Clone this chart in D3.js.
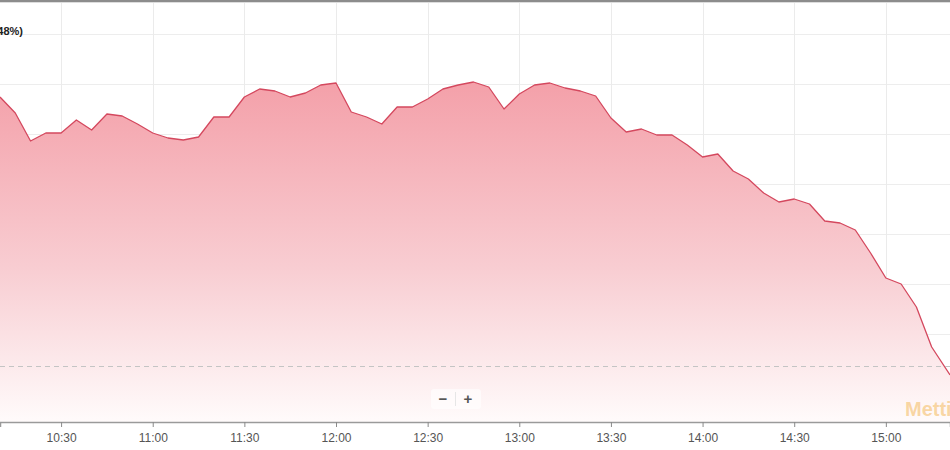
<!DOCTYPE html>
<html>
<head>
<meta charset="utf-8">
<script src="https://cdn.jsdelivr.net/npm/d3@7"></script>
<style>
  html, body { margin: 0; padding: 0; background: #fff; }
  svg { display: block; font-family: "Liberation Sans", Arial, sans-serif; }
</style>
</head>
<body>
<svg id="chart" width="950" height="450"></svg>
<script>
// intraday quotes, one every 5 minutes, last one live
const times = [
  "10:10", "10:15", "10:20", "10:25", "10:30", "10:35", "10:40", "10:45", "10:50", "10:55",
  "11:00", "11:05", "11:10", "11:15", "11:20", "11:25", "11:30", "11:35", "11:40", "11:45",
  "11:50", "11:55", "12:00", "12:05", "12:10", "12:15", "12:20", "12:25", "12:30", "12:35",
  "12:40", "12:45", "12:50", "12:55", "13:00", "13:05", "13:10", "13:15", "13:20", "13:25",
  "13:30", "13:35", "13:40", "13:45", "13:50", "13:55", "14:00", "14:05", "14:10", "14:15",
  "14:20", "14:25", "14:30", "14:35", "14:40", "14:45", "14:50", "14:55", "15:00", "15:05",
  "15:10", "15:15", "15:21"
];
const prices = [
  9.987, 9.971, 9.943, 9.951, 9.951, 9.964, 9.954, 9.970, 9.968, 9.960,
  9.951, 9.946, 9.944, 9.947, 9.967, 9.967, 9.987, 9.995, 9.993, 9.987,
  9.991, 9.999, 10.001, 9.972, 9.967, 9.960, 9.977, 9.977, 9.985, 9.995,
  9.999, 10.002, 9.997, 9.975, 9.990, 9.999, 10.001, 9.996, 9.993, 9.988,
  9.966, 9.952, 9.955, 9.949, 9.949, 9.939, 9.927, 9.930, 9.913, 9.905,
  9.891, 9.882, 9.885, 9.880, 9.863, 9.861, 9.854, 9.831, 9.806, 9.800,
  9.777, 9.737, 9.709
];
const prevClose = 9.718;
const tickTimes = ["10:30", "11:00", "11:30", "12:00", "12:30", "13:00", "13:30", "14:00", "14:30", "15:00"];
const gridValues = [9.70, 9.75, 9.80, 9.85, 9.90, 9.95, 10.00, 10.05];
const changeLabel = "FTSE MIB 33.870 (-0,48%)";

const W = 950, H = 450;
const axisY = 422;
const parse = d3.timeParse("%H:%M");
const data = times.map((t, i) => ({ t: parse(t), v: prices[i] }));

const svg = d3.select("#chart");

const x = d3.scaleTime()
  .domain([parse("10:10"), d3.timeMinute.offset(parse("15:20"), 1)])
  .range([0, W]);
const y = d3.scaleLinear()
  .domain([9.662, 10.082])
  .range([axisY, 2]);

// gradient for the area
const grad = svg.append("defs").append("linearGradient")
  .attr("id", "fillGrad")
  .attr("gradientUnits", "userSpaceOnUse")
  .attr("x1", 0).attr("x2", 0)
  .attr("y1", y(10.002)).attr("y2", axisY);
grad.append("stop").attr("offset", 0).attr("stop-color", "#f4a0a9");
grad.append("stop").attr("offset", 0.55).attr("stop-color", "#f8cdd2");
grad.append("stop").attr("offset", 1).attr("stop-color", "#fffbfb");

// grid
svg.append("g")
  .selectAll("line")
  .data(gridValues)
  .enter()
  .append("line")
  .attr("x1", 0).attr("x2", W)
  .attr("y1", (d) => Math.round(y(d)) + 0.5)
  .attr("y2", (d) => Math.round(y(d)) + 0.5)
  .attr("stroke", "#ededed")
  .attr("stroke-width", 1);

svg.append("g")
  .selectAll("line")
  .data(tickTimes)
  .enter()
  .append("line")
  .attr("x1", (d) => Math.round(x(parse(d))) + 0.5)
  .attr("x2", (d) => Math.round(x(parse(d))) + 0.5)
  .attr("y1", 3).attr("y2", axisY)
  .attr("stroke", "#ebebeb")
  .attr("stroke-width", 1);

// area + line
const area = d3.area()
  .x((d) => x(d.t))
  .y0(axisY)
  .y1((d) => y(d.v));

const line = d3.line()
  .x((d) => x(d.t))
  .y((d) => y(d.v));

svg.append("path")
  .datum(data)
  .attr("fill", "url(#fillGrad)")
  .attr("d", area);

svg.append("path")
  .datum(data)
  .attr("fill", "none")
  .attr("stroke", "#d4485e")
  .attr("stroke-width", 1.3)
  .attr("stroke-linejoin", "round")
  .attr("d", line);

// previous close
svg.append("line")
  .attr("x1", 0).attr("x2", W)
  .attr("y1", Math.round(y(prevClose)) + 0.5)
  .attr("y2", Math.round(y(prevClose)) + 0.5)
  .attr("stroke", "#c4c4c4")
  .attr("stroke-width", 1)
  .attr("stroke-dasharray", "5,4");

// top border
svg.append("line")
  .attr("x1", 0).attr("x2", W)
  .attr("y1", 1).attr("y2", 1)
  .attr("stroke", "#8c8c8c")
  .attr("stroke-width", 2);
svg.append("line")
  .attr("x1", 0).attr("x2", W)
  .attr("y1", 2.5).attr("y2", 2.5)
  .attr("stroke", "#dddddd")
  .attr("stroke-width", 1);

// x axis
const xAxis = d3.axisBottom(x)
  .tickValues(tickTimes.map(parse))
  .tickFormat(d3.timeFormat("%H:%M"))
  .tickSizeOuter(0)
  .tickSize(5)
  .tickPadding(6);

const gx = svg.append("g")
  .attr("transform", `translate(0,${axisY})`)
  .call(xAxis);
gx.select(".domain").attr("stroke", "#9a9a9a").attr("stroke-width", 1.5);
gx.selectAll(".tick line").attr("stroke", "#8a8a8a");
gx.selectAll(".tick text")
  .attr("fill", "#555")
  .attr("font-size", "12px")
  .attr("font-family", "Liberation Sans, Arial, sans-serif");

// header label (cut at the left edge, as in the source)
svg.append("text")
  .attr("x", 23).attr("y", 35)
  .attr("text-anchor", "end")
  .attr("font-size", "11px")
  .attr("font-weight", "bold")
  .attr("fill", "#222")
  .text(changeLabel);

// zoom buttons
const zoomG = svg.append("g");
zoomG.append("rect")
  .attr("x", 431).attr("y", 389)
  .attr("width", 50).attr("height", 20)
  .attr("rx", 3)
  .attr("fill", "#ffffff")
  .attr("fill-opacity", 0.6);
zoomG.append("line")
  .attr("x1", 455.5).attr("x2", 455.5)
  .attr("y1", 392).attr("y2", 406)
  .attr("stroke", "#e6e6e6");
zoomG.selectAll("text")
  .data(["\u2212", "+"])
  .enter()
  .append("text")
  .attr("x", (d, i) => (i === 0 ? 443 : 468))
  .attr("y", 404)
  .attr("text-anchor", "middle")
  .attr("font-size", "15px")
  .attr("font-weight", "bold")
  .attr("fill", "#555")
  .text((d) => d);

// watermark (cut at the right edge, as in the source)
svg.append("text")
  .attr("x", 905).attr("y", 416)
  .attr("font-size", "20px")
  .attr("font-weight", "bold")
  .attr("fill", "#f6c77e")
  .attr("fill-opacity", 0.7)
  .text("Mettiti");
</script>
</body>
</html>
